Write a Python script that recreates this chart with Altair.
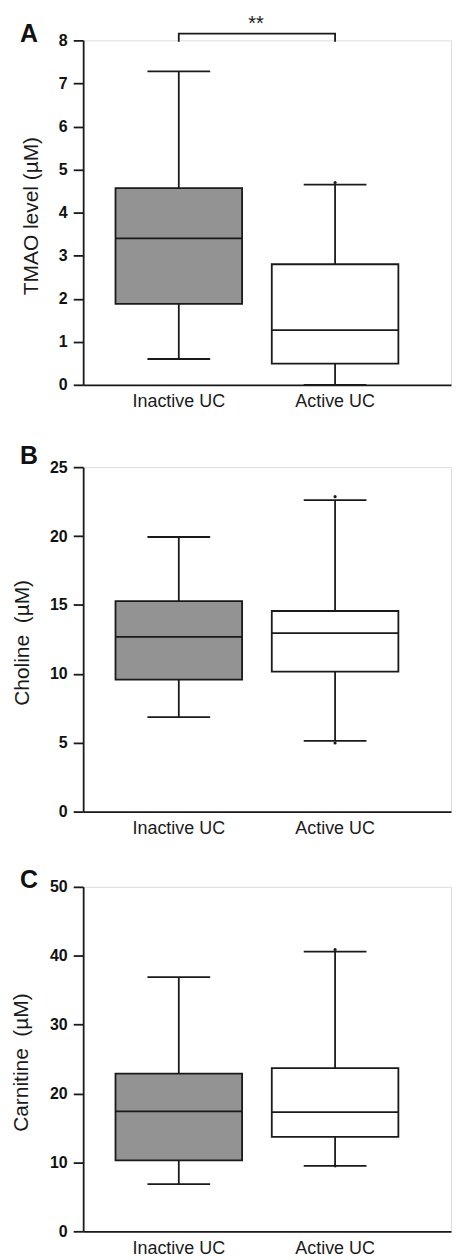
import altair as alt
import pandas as pd

categories = ["Inactive UC", "Active UC"]

# Panel A: TMAO
tmao_min = [0.60, 0.00]
tmao_q1 = [1.88, 0.49]
tmao_med = [3.40, 1.27]
tmao_q3 = [4.57, 2.80]
tmao_max = [7.28, 4.65]
tmao_out_cat = ["Active UC"]
tmao_out_val = [4.70]

# Panel B: Choline
chol_min = [6.86, 5.13]
chol_q1 = [9.58, 10.16]
chol_med = [12.68, 12.95]
chol_q3 = [15.28, 14.56]
chol_max = [19.93, 22.60]
chol_out_cat = ["Active UC", "Active UC"]
chol_out_val = [22.86, 4.98]

# Panel C: Carnitine
carn_min = [6.84, 9.50]
carn_q1 = [10.30, 13.70]
carn_med = [17.40, 17.30]
carn_q3 = [22.90, 23.70]
carn_max = [36.90, 40.60]
carn_out_cat = ["Active UC", "Active UC"]
carn_out_val = [40.90, 9.50]

# significance bracket (panel A)
bracket_cat = ["Inactive UC", "Inactive UC", "Active UC", "Active UC"]
bracket_val = [7.97, 8.155, 8.155, 7.97]
bracket_ord = [0, 1, 2, 3]

box_fill = ["#939393", "#ffffff"]
INK = "#1a1a1a"
FONT = "Liberation Sans"
W, H = 369.5, 346
SW = 1.8


def panel(letter, letter_y, mins, q1, med, q3, maxs, out_cat, out_val,
          title, dmax, step, title_x, bracket=False):
    df = pd.DataFrame({"cat": categories, "lo": mins, "q1": q1, "med": med,
                       "q3": q3, "hi": maxs})
    out = pd.DataFrame({"cat": out_cat, "v": out_val})

    xscale = alt.Scale(domain=categories, paddingInner=0.19,
                       paddingOuter=0.2718, align=0.3806)
    xaxis = alt.Axis(title=None, labelAngle=0, ticks=False, labelPadding=8,
                     labelFontSize=18, labelFont=FONT, labelColor=INK,
                     domainColor=INK, domainWidth=SW, grid=False)
    yscale = alt.Scale(domain=[0, dmax], nice=False, zero=True)
    yaxis = alt.Axis(title=title, values=list(range(0, dmax + 1, step)),
                     tickSize=10, tickWidth=SW, tickColor=INK,
                     domainColor=INK, domainWidth=SW, grid=False,
                     labelFont=FONT, labelFontWeight="bold", labelFontSize=16,
                     labelColor="#111111", labelPadding=6,
                     titleFont=FONT, titleFontSize=21, titleFontWeight="normal",
                     titleColor=INK, titleX=title_x, titleY=H / 2 + 3,
                     titleBaseline="middle", titleAlign="center", titleAngle=270)

    def X():
        return alt.X("cat:N", sort=categories, scale=xscale, axis=xaxis)

    def Y(f):
        return alt.Y(f, scale=yscale, axis=yaxis)

    base = alt.Chart(df)
    whisk = base.mark_rule(color=INK, strokeWidth=SW).encode(
        x=X(), y=Y("lo:Q"), y2="hi:Q")
    cap_lo = base.mark_tick(color=INK, size=63, thickness=SW, opacity=1).encode(
        x=X(), y=Y("lo:Q"))
    cap_hi = base.mark_tick(color=INK, size=63, thickness=SW, opacity=1).encode(
        x=X(), y=Y("hi:Q"))
    box = base.mark_rect(stroke=INK, strokeWidth=SW, opacity=1).encode(
        x=X(), y=Y("q1:Q"), y2="q3:Q",
        fill=alt.Fill("cat:N", scale=alt.Scale(domain=categories, range=box_fill),
                      legend=None))
    median = base.mark_tick(color=INK, size=127, thickness=SW, opacity=1).encode(
        x=X(), y=Y("med:Q"))
    dots = alt.Chart(out).mark_circle(color=INK, size=10, opacity=1).encode(
        x=X(), y=Y("v:Q"))
    lab = alt.Chart(pd.DataFrame({"t": [letter]})).mark_text(
        font=FONT, fontSize=25, fontWeight="bold", color="#111111",
        align="left", baseline="alphabetic").encode(
        text="t:N", x=alt.value(-63.5), y=alt.value(letter_y))

    layers = [whisk, cap_lo, cap_hi, box, median, dots, lab]
    if bracket:
        br = pd.DataFrame({"cat": bracket_cat, "v": bracket_val, "o": bracket_ord})
        line = alt.Chart(br).mark_line(color=INK, strokeWidth=SW).encode(
            x=X(), y=Y("v:Q"), order="o:Q")
        stars = alt.Chart(pd.DataFrame({"t": ["**"]})).mark_text(
            font=FONT, fontSize=20, color=INK, align="center",
            baseline="alphabetic").encode(
            text="t:N", x=alt.value(173.5), y=alt.value(-10))
        layers += [line, stars]
    return alt.layer(*layers).properties(width=W, height=H)


A = panel("A", 1.6, tmao_min, tmao_q1, tmao_med, tmao_q3, tmao_max,
          tmao_out_cat, tmao_out_val, "TMAO level (µM)", 8, 1, -52, bracket=True)
B = panel("B", -2.7, chol_min, chol_q1, chol_med, chol_q3, chol_max,
          chol_out_cat, chol_out_val, "Choline\u00a0 (µM)", 25, 5, -60.5)
C = panel("C", 1.2, carn_min, carn_q1, carn_med, carn_q3, carn_max,
          carn_out_cat, carn_out_val, "Carnitine\u00a0 (µM)", 50, 10, -62)

inner = alt.vconcat(B, C, spacing=75.6, bounds="flush")
chart = alt.vconcat(A, inner, spacing=82.7, bounds="flush").properties(
    padding={"left": 1.5, "top": 2.7, "right": 0, "bottom": 0}
).configure_view(stroke=None).configure(font=FONT)

chart.save("out.html", embed_options={"renderer": "svg", "actions": False})
